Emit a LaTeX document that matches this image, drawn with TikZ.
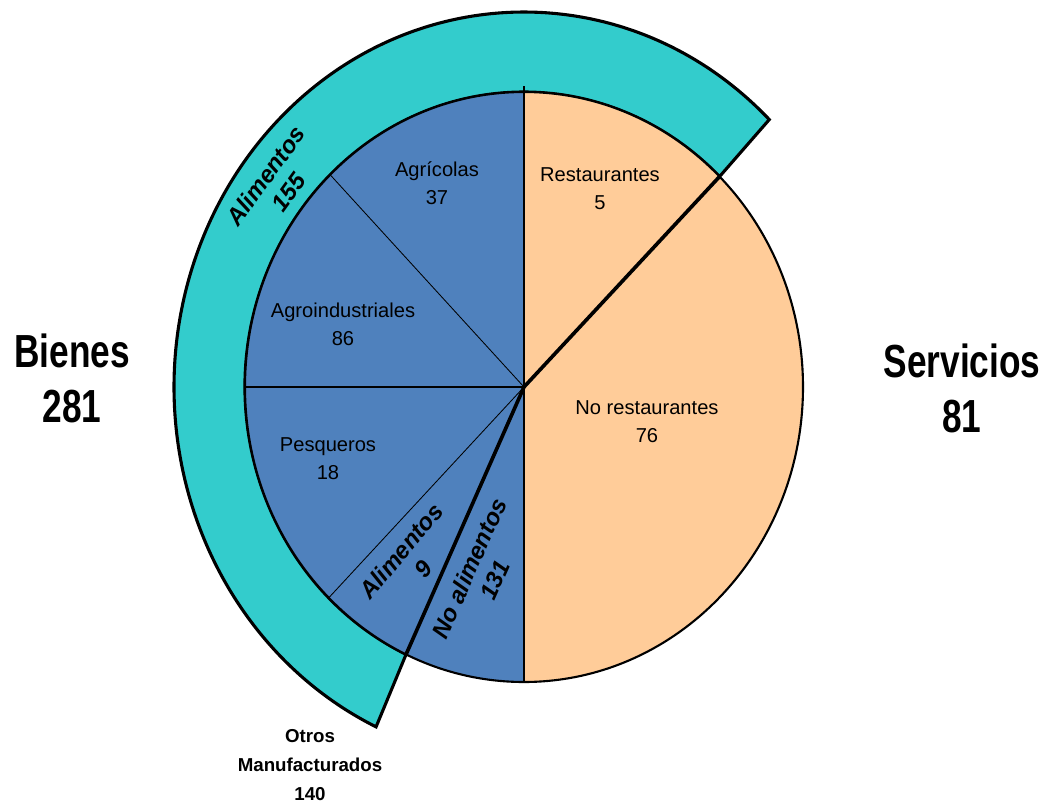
\documentclass[tikz,border=0pt]{standalone}
\usepackage{fontspec}
\setmainfont{Liberation Sans}
\newfontfamily\narrowbold[FakeStretch=0.76]{Liberation Sans}
\usetikzlibrary{positioning}
\definecolor{bienesblue}{HTML}{4F81BD}
\definecolor{serviciospeach}{HTML}{FFCC99}
\definecolor{alimteal}{HTML}{33CCCC}
\tikzset{
  pie/.style={x radius=279, y radius=295},
  ring/.style={x radius=350, y radius=375},
  slicelabel/.style={align=center, font=\fontsize{14.3}{20}\selectfont},
  ringlabel/.style={align=center, font=\fontsize{17}{20}\selectfont\bfseries\itshape},
  grouplabel/.style={align=center, font=\fontsize{33}{39}\selectfont\narrowbold\bfseries},
}
\begin{document}
\begin{tikzpicture}[x=0.025cm, y=0.025cm]
				    		\useasboundingbox (-524,-417) rectangle (530,387);
				    		\coordinate (c) at (0,0);
				    		\coordinate (top) at (90:279 and 295);
				    		\coordinate (bot) at (270:279 and 295);
				    		\coordinate (left) at (180:279 and 295);
				    		\coordinate (agr) at (134:279 and 295);
				    		\coordinate (pes) at (225.6:279 and 295);
				    		\coordinate (rest) at (45.5:279 and 295);
				    		\coordinate (manuf) at (245:279 and 295);
				    		\coordinate (restout) at (45.5:350 and 375);
				    		\filldraw[alimteal, draw=black, line width=2.2, line join=miter] (rest) -- (restout) arc[start angle=45.5, end angle=245, ring] -- (manuf) arc[start angle=245, end angle=45.5, pie] -- cycle;
				    		\fill[bienesblue] (c) -- (top) arc[start angle=90, end angle=270, pie] -- cycle;
				    		\fill[serviciospeach] (c) -- (bot) arc[start angle=-90, end angle=90, pie] -- cycle;
				    		\draw[line width=0.6] (c) -- (agr);
				    		\draw[line width=0.6] (c) -- (pes);
				    		\draw[line width=0.9] (c) -- (left);
				    		\draw[line width=1.3] ([yshift=4]top) -- (bot);
				    		\draw[line width=2.6] (c) -- (rest);
				    		\draw[line width=2.6] (c) -- (manuf);
				    		\draw[line width=1.5] (c) ellipse[pie];
				    		\node[slicelabel] (agricolas) at (-87,204) {Agrícolas\\37};
				    		\node[slicelabel] (agroind) at (-181,63) {Agroindustriales\\86};
				    		\node[slicelabel] (pesqueros) at (-196,-72) {Pesqueros\\18};
				    		\node[slicelabel] (restaurantes) at (76,198) {Restaurantes\\5};
				    		\node[slicelabel] (norest) at (123,-35) {No restaurantes\\76};
				    		\node[ringlabel, rotate=50] (alim9) at (-112,-173) {Alimentos\\9};
				    		\node[ringlabel, rotate=66] (noalim) at (-42,-187) {No alimentos\\131};
				    		\node[ringlabel, rotate=54] (alim155) at (-247,203) {Alimentos\\155};
				    		\node[grouplabel] (bienes) at (-452,9) {Bienes\\281};
				    		\node[grouplabel] (servicios) at (438,-1) {Servicios\\81};
				    		\node[align=center, font=\fontsize{13.3}{20.6}\selectfont\bfseries] (otros) at (-214,-378) {Otros\\Manufacturados\\140};
				    	\end{tikzpicture}
\end{document}
